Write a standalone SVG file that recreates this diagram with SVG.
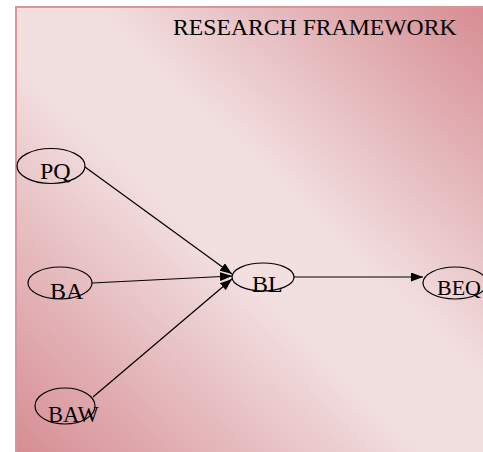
<svg xmlns="http://www.w3.org/2000/svg" width="483" height="452" viewBox="0 0 483 452">
<defs>
<linearGradient id="bg" x1="1" y1="0" x2="0" y2="1">
<stop offset="0" stop-color="#d68d93"/>
<stop offset="0.42" stop-color="#f2dfe0"/>
<stop offset="0.56" stop-color="#f2dfe0"/>
<stop offset="1" stop-color="#d68d93"/>
</linearGradient>
<marker id="arr" viewBox="0 0 12 9" refX="12" refY="4.5" markerWidth="12" markerHeight="9" markerUnits="userSpaceOnUse" orient="auto">
<path d="M0,0 L12,4.5 L0,9 Z" fill="#000"/>
</marker>
<style>
.n ellipse{fill:none;stroke:#000;stroke-width:1.2}
text{font-family:"Liberation Serif","Times New Roman",serif;font-size:24px;fill:#000}
.e line{stroke:#000;stroke-width:1.2;marker-end:url(#arr)}
</style>
</defs>
<rect x="16" y="7" width="468" height="446" fill="url(#bg)" stroke="#d9959a" stroke-width="2"/>
<text x="173" y="35" style="font-size:23.7px">RESEARCH FRAMEWORK</text>
<g class="e">
<line x1="85" y1="167" x2="232" y2="274"/>
<line x1="92" y1="283" x2="232" y2="276"/>
<line x1="93" y1="397" x2="232" y2="279"/>
<line x1="294" y1="277" x2="423" y2="277"/>
</g>
<g id="PQ" class="n"><ellipse cx="51" cy="166" rx="34" ry="17.5"/><text x="40" y="179">PQ</text></g>
<g id="BA" class="n"><ellipse cx="60" cy="283" rx="32" ry="16"/><text x="50" y="299">BA</text></g>
<g id="BAW" class="n"><ellipse cx="65" cy="406" rx="30" ry="18"/><text x="48" y="422" style="font-size:22.5px">BAW</text></g>
<g id="BL" class="n"><ellipse cx="263" cy="277" rx="31" ry="14"/><text x="252" y="292">BL</text></g>
<g id="BEQ" class="n"><ellipse cx="455" cy="283" rx="32" ry="16"/><text x="437" y="295" style="font-size:22px">BEQ</text></g>
</svg>
